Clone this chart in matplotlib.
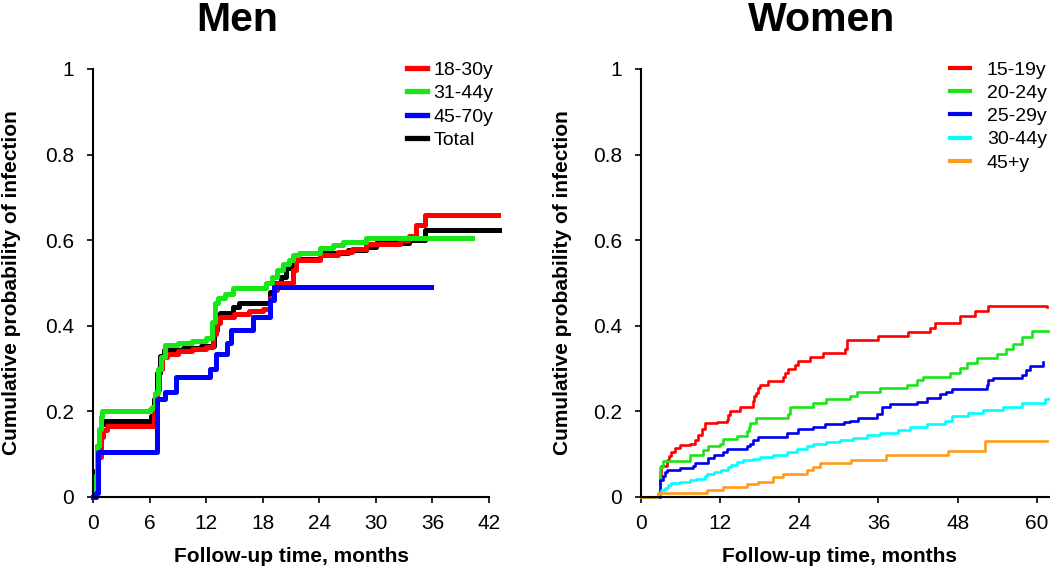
import matplotlib
matplotlib.use("Agg")
import matplotlib.pyplot as plt

plt.rcParams['font.family'] = ['Liberation Sans', 'DejaVu Sans']

# ------------------ MEN DATA (months, cumulative probability) ------------------
men_labels = ["18-30y", "31-44y", "45-70y", "Total"]
men_colors = ["#ff0000", "#19e619", "#0000ff", "#000000"]

m1830_t = [0, 0.3, 0.5, 0.8, 1.1, 1.5, 6.5, 6.8, 7.0, 7.3, 7.8, 9.0, 10.5, 12.0, 12.7, 13.0, 13.5,
           15.0, 16.5, 18.0, 18.8, 19.2, 19.5, 21.2, 21.5, 24.1, 26.0, 27.5, 29.0, 32.6, 33.5, 34.3, 35.2, 43.0]
m1830_p = [0, 0.05, 0.093, 0.14, 0.157, 0.165, 0.2, 0.25, 0.3, 0.327, 0.335, 0.34, 0.345, 0.35, 0.38, 0.406, 0.42,
           0.428, 0.435, 0.44, 0.465, 0.484, 0.5, 0.53, 0.553, 0.565, 0.572, 0.58, 0.59, 0.6, 0.61, 0.635, 0.659, 0.659]

m3144_t = [0, 0.2, 0.4, 0.6, 0.8, 1.0, 6.0, 6.3, 6.6, 6.9, 7.2, 7.6, 9.0, 10.5, 12.0, 12.6, 12.9, 13.3,
           14.0, 14.9, 18.4, 19.0, 19.5, 20.2, 20.8, 21.2, 21.9, 24.1, 25.5, 26.5, 29.0, 40.2]
m3144_p = [0, 0.05, 0.12, 0.16, 0.187, 0.2, 0.205, 0.21, 0.243, 0.3, 0.327, 0.355, 0.36, 0.365, 0.372, 0.41, 0.453, 0.465,
           0.475, 0.488, 0.5, 0.514, 0.53, 0.545, 0.553, 0.565, 0.57, 0.582, 0.588, 0.596, 0.605, 0.605]

m4570_t = [0, 0.3, 0.5, 6.8, 7.6, 8.8, 12.4, 13.0, 14.2, 14.6, 17.0, 18.8, 19.2, 35.8]
m4570_p = [0, 0.01, 0.105, 0.23, 0.245, 0.28, 0.30, 0.335, 0.36, 0.39, 0.42, 0.46, 0.49, 0.49]

mtot_t = [0, 0.2, 0.4, 0.6, 0.9, 1.2, 6.2, 6.5, 6.8, 7.1, 7.5, 9.5, 11.5, 12.8, 13.2, 13.5, 14.9, 15.5,
          18.8, 19.2, 19.9, 20.5, 21.0, 21.9, 24.1, 27.0, 29.0, 30.0, 33.5, 35.2, 43.1]
mtot_p = [0, 0.06, 0.12, 0.15, 0.17, 0.178, 0.19, 0.23, 0.29, 0.33, 0.343, 0.348, 0.352, 0.39, 0.42, 0.43, 0.444, 0.453,
          0.48, 0.5, 0.514, 0.535, 0.553, 0.555, 0.57, 0.578, 0.585, 0.594, 0.6, 0.624, 0.624]

# ------------------ WOMEN DATA ------------------
women_labels = ["15-19y", "20-24y", "25-29y", "30-44y", "45+y"]
women_colors = ["#ff0000", "#19e619", "#0000ee", "#00ffff", "#ff9a1a"]

w1519_t = [0, 2.4, 2.9, 3.1, 3.9, 4.2, 4.5, 5.1, 5.9, 7.5, 8.2, 8.7, 9.2, 9.7, 11.5, 13.0, 13.2, 13.5, 15.0,
           17.0, 17.2, 17.5, 17.8, 18.0, 19.3, 21.6, 21.8, 22.3, 23.4, 23.8, 25.6, 27.6, 30.9, 31.2, 35.9,
           40.5, 43.8, 44.5, 48.3, 50.6, 52.6, 61.5]
w1519_p = [0, 0, 0.05, 0.073, 0.086, 0.095, 0.106, 0.114, 0.121, 0.125, 0.133, 0.145, 0.16, 0.173, 0.176, 0.18, 0.191, 0.2, 0.21,
           0.225, 0.236, 0.243, 0.255, 0.262, 0.272, 0.28, 0.29, 0.3, 0.308, 0.318, 0.328, 0.337, 0.345, 0.367, 0.376,
           0.386, 0.395, 0.407, 0.423, 0.435, 0.446, 0.445]

w2024_t = [0, 2.9, 3.4, 7.4, 9.4, 10.2, 11.9, 12.5, 14.5, 16.0, 16.3, 16.5, 17.5, 22.3, 22.6, 26.1, 28.1, 31.7,
           32.7, 36.2, 40.3, 41.8, 42.8, 46.8, 48.3, 49.4, 50.9, 53.9, 55.4, 56.4, 57.7, 59.2, 62.0]
w2024_p = [0, 0.071, 0.084, 0.098, 0.11, 0.118, 0.125, 0.135, 0.143, 0.155, 0.163, 0.172, 0.185, 0.195, 0.21, 0.22, 0.229, 0.235,
           0.246, 0.255, 0.262, 0.273, 0.281, 0.29, 0.301, 0.313, 0.325, 0.335, 0.346, 0.357, 0.375, 0.389, 0.389]

w2529_t = [0, 2.9, 3.3, 3.6, 3.9, 5.9, 7.9, 8.2, 10.2, 11.0, 12.5, 13.0, 16.0, 16.5, 17.0, 17.8, 22.1, 23.8, 26.1,
           27.9, 30.7, 31.7, 32.9, 35.7, 36.5, 37.7, 41.8, 43.3, 45.3, 46.3, 47.1, 52.4, 52.6, 53.4, 57.7, 58.4, 58.9, 61.0]
w2529_p = [0, 0.04, 0.05, 0.059, 0.063, 0.067, 0.073, 0.079, 0.09, 0.098, 0.104, 0.112, 0.118, 0.125, 0.133, 0.141, 0.15, 0.159, 0.164,
           0.17, 0.175, 0.178, 0.184, 0.195, 0.211, 0.217, 0.223, 0.232, 0.24, 0.246, 0.252, 0.262, 0.273, 0.279, 0.286, 0.297, 0.306, 0.316]

w3044_t = [0, 2.6, 3.1, 3.6, 4.1, 4.6, 5.9, 7.4, 8.4, 9.7, 10.0, 11.0, 12.2, 13.2, 13.7, 14.5, 15.5, 17.0, 18.0,
           20.0, 22.1, 23.6, 25.1, 26.1, 28.1, 30.1, 32.2, 34.2, 36.2, 39.0, 40.8, 43.3, 46.1, 47.1, 49.6, 51.9,
           54.9, 57.7, 61.2, 62.0]
w3044_p = [0, 0.008, 0.016, 0.022, 0.028, 0.033, 0.035, 0.04, 0.043, 0.048, 0.054, 0.059, 0.063, 0.07, 0.074, 0.081, 0.086, 0.089, 0.094,
           0.098, 0.106, 0.112, 0.118, 0.125, 0.128, 0.133, 0.137, 0.144, 0.149, 0.157, 0.164, 0.17, 0.178, 0.189, 0.196, 0.203,
           0.21, 0.219, 0.228, 0.231]

w45_t = [0, 2.6, 10.0, 12.5, 16.0, 17.8, 20.0, 21.6, 25.1, 26.1, 27.1, 31.9, 37.2, 46.6, 52.1, 61.5]
w45_p = [0, 0.009, 0.016, 0.024, 0.03, 0.036, 0.046, 0.054, 0.062, 0.071, 0.079, 0.086, 0.097, 0.108, 0.131, 0.131]

men_ticks = [0, 6, 12, 18, 24, 30, 36, 42]
women_ticks = [0, 12, 24, 36, 48, 60]
y_ticks = [0, 0.2, 0.4, 0.6, 0.8, 1]
y_ticklabels = ["0", "0.2", "0.4", "0.6", "0.8", "1"]

# ------------------ FIGURE ------------------
W, H = 1050, 568
fig = plt.figure(figsize=(W / 100, H / 100), dpi=100)

ax1 = fig.add_axes([93 / W, 71 / H, 396 / W, 428 / H])
ax2 = fig.add_axes([641 / W, 71 / H, 409 / W, 428 / H])


def style_axis(ax, xticks, xmax):
    ax.set_xlim(0, xmax)
    ax.set_ylim(0, 1)
    ax.set_xticks(xticks)
    ax.set_yticks(y_ticks)
    ax.set_yticklabels(y_ticklabels)
    for s in ["top", "right"]:
        ax.spines[s].set_visible(False)
    for s in ["left", "bottom"]:
        ax.spines[s].set_linewidth(1.5)
    ax.spines["left"].set_bounds(0, 1)
    ax.tick_params(axis="both", direction="out", length=4.5, width=1.2, labelsize=15)
    ax.tick_params(axis="x", pad=8)
    ax.tick_params(axis="y", pad=9)
    ax.patch.set_alpha(0)


# men curves
men_series = [(m1830_t, m1830_p), (m3144_t, m3144_p), (m4570_t, m4570_p), (mtot_t, mtot_p)]
order = [3, 0, 1, 2]
lines = {}
for i in order:
    t, p = men_series[i]
    ln, = ax1.step(t, p, where="post", color=men_colors[i], lw=3.6, clip_on=False, label=men_labels[i])
    lines[i] = ln
style_axis(ax1, men_ticks, 42)
ax1.spines["bottom"].set_bounds(0, 42)
leg1 = ax1.legend([lines[i] for i in range(4)], men_labels, loc="upper left",
                  bbox_to_anchor=(407 / W, 1 - 61 / H), bbox_transform=fig.transFigure,
                  frameon=False, fontsize=14, handlelength=1.05, handletextpad=0.3,
                  labelspacing=0.30, borderpad=0, borderaxespad=0)
for l in leg1.get_lines():
    l.set_linewidth(3.8)

# women curves
women_series = [(w1519_t, w1519_p), (w2024_t, w2024_p), (w2529_t, w2529_p), (w3044_t, w3044_p), (w45_t, w45_p)]
for i, (t, p) in enumerate(women_series):
    ax2.step(t, p, where="post", color=women_colors[i], lw=1.9, clip_on=False, label=women_labels[i])
style_axis(ax2, women_ticks, 62)
leg2 = ax2.legend(loc="upper left", bbox_to_anchor=(950 / W, 1 - 61 / H), bbox_transform=fig.transFigure,
                  frameon=False, fontsize=14, handlelength=1.05, handletextpad=0.85,
                  labelspacing=0.29, borderpad=0, borderaxespad=0)
for l in leg2.get_lines():
    l.set_linewidth(3.0)

# ------------------ TEXTS ------------------
fig.text(237 / W, 1 - 31 / H, "Men", ha="center", va="baseline", fontsize=29.5, fontweight="bold")
fig.text(822 / W, 1 - 31 / H, "Women", ha="center", va="baseline", fontsize=29.5, fontweight="bold")

ylab = "Cumulative probability of infection"
fig.text(12 / W, 1 - 283 / H, ylab, rotation=90, ha="center", va="center", fontsize=15, fontweight="bold")
fig.text(562 / W, 1 - 283 / H, ylab, rotation=90, ha="center", va="center", fontsize=15, fontweight="bold")

xlab = "Follow-up time, months"
fig.text(291 / W, 1 - 557 / H, xlab, ha="center", va="center", fontsize=15, fontweight="bold")
fig.text(840 / W, 1 - 557 / H, xlab, ha="center", va="center", fontsize=15, fontweight="bold")

fig.savefig("out.png", dpi=100)
